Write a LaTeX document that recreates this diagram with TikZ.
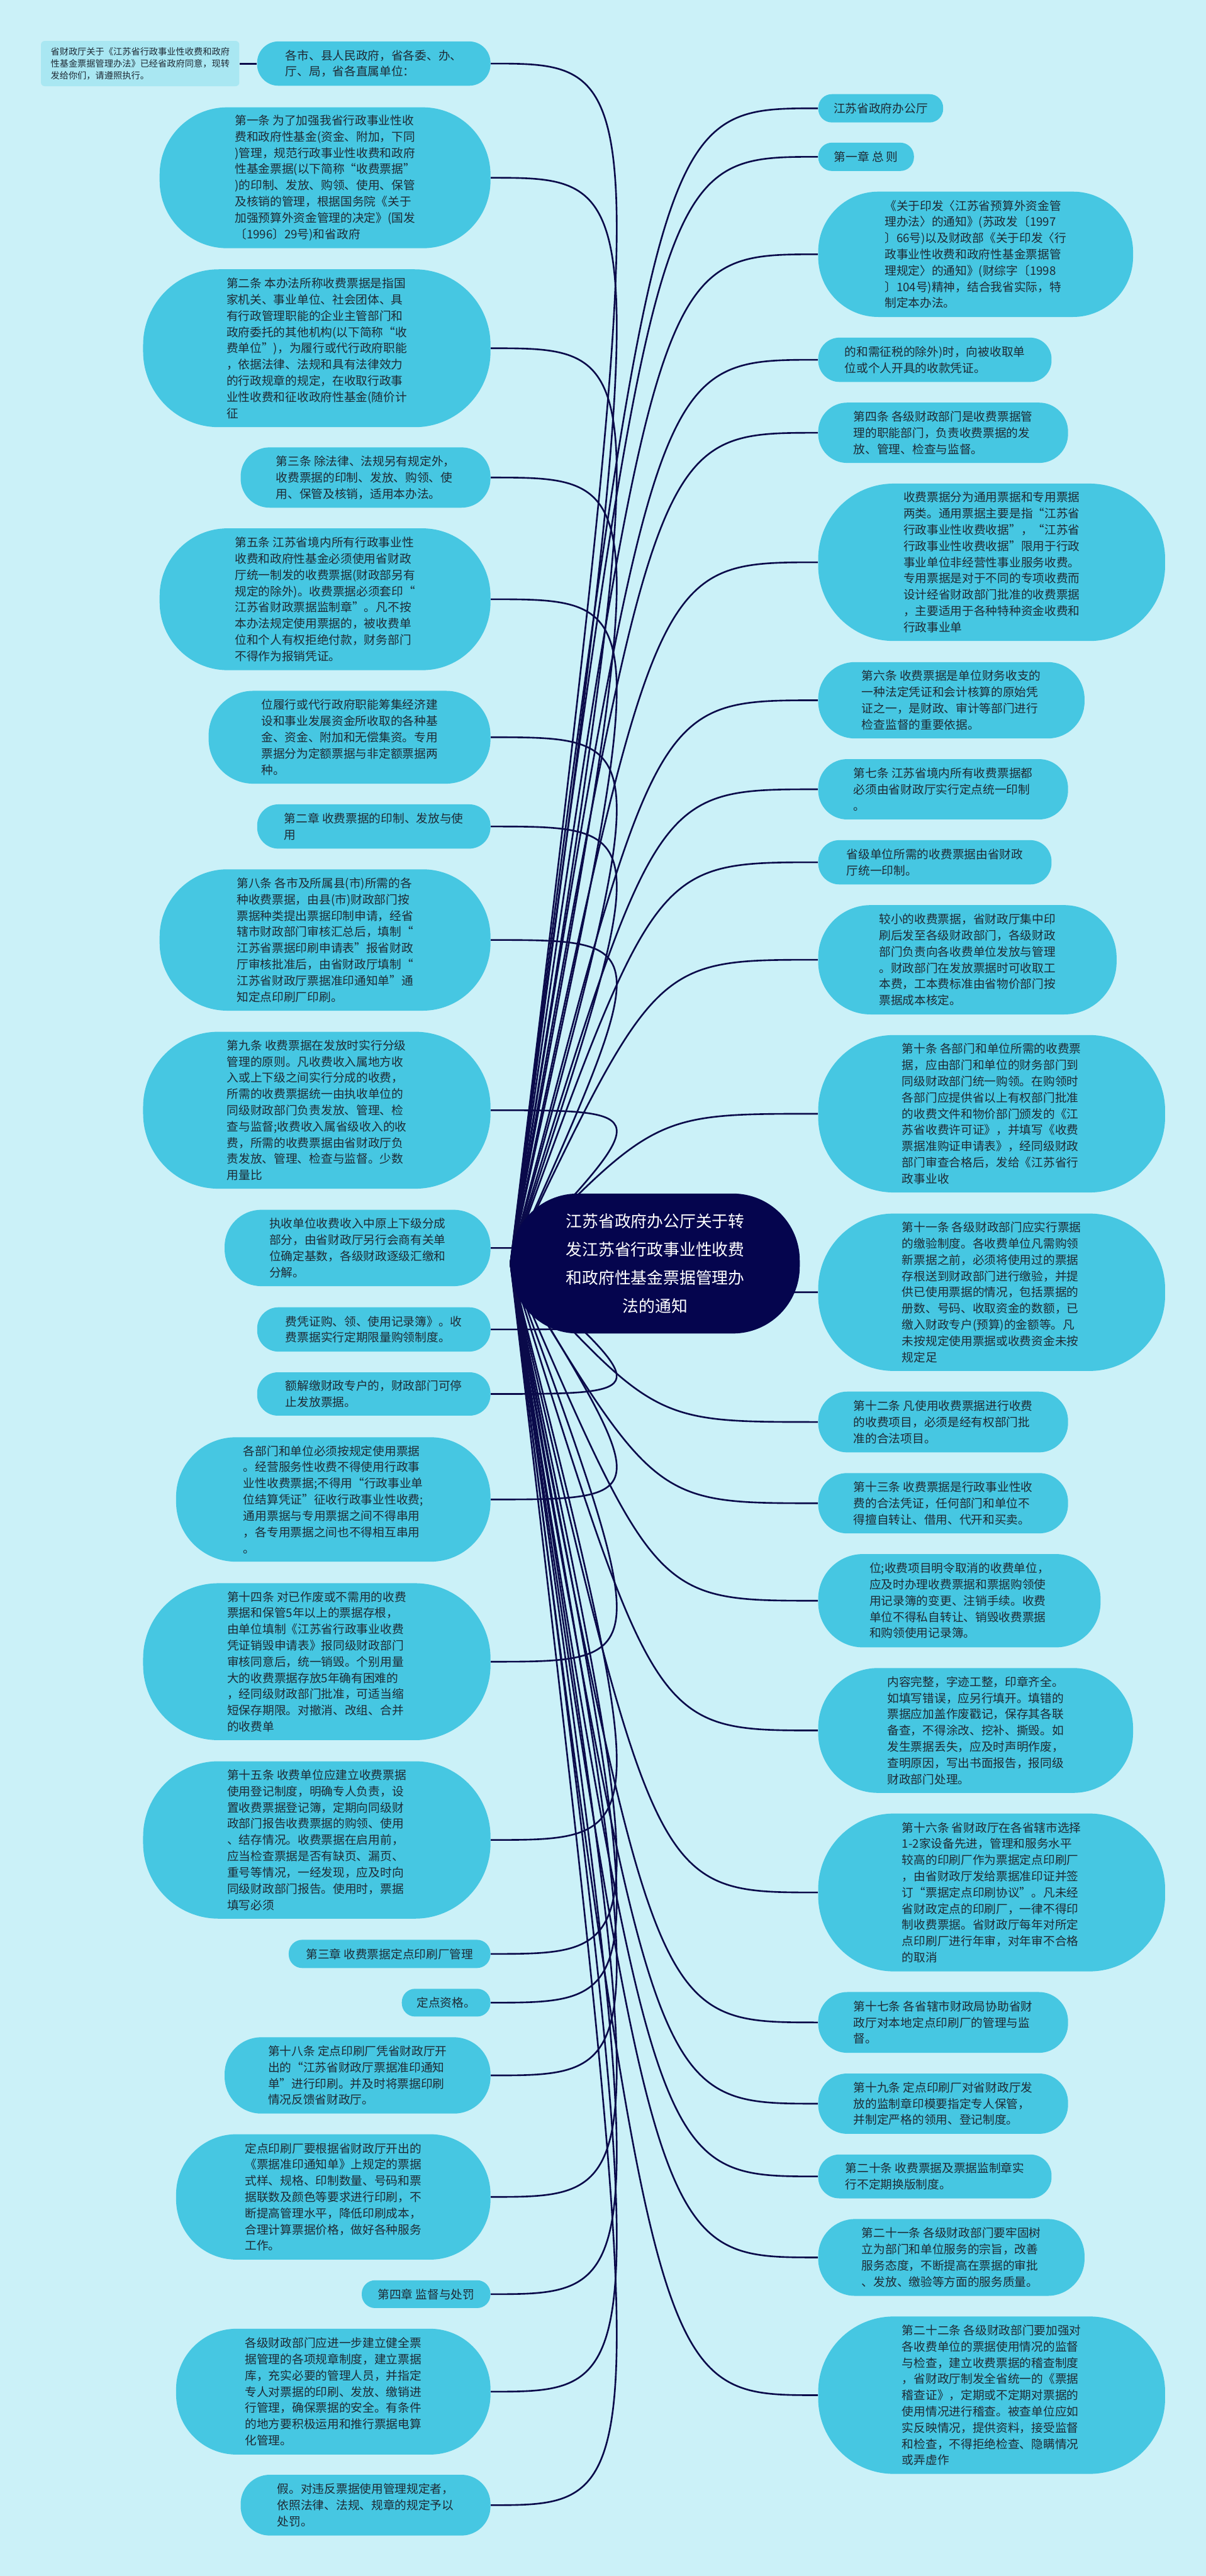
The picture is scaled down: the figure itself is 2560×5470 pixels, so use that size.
\documentclass[tikz,border=0pt]{standalone}
\usepackage{fontspec}
\setmainfont{Noto Sans CJK SC}
\usetikzlibrary{calc}
\pgfdeclarelayer{bg}\pgfdeclarelayer{edges}
\pgfsetlayers{bg,edges,main}
\definecolor{bgc}{HTML}{CBF1F8}
\definecolor{nodec}{HTML}{46C7E2}
\definecolor{notec}{HTML}{A9E7F2}
\definecolor{rootc}{HTML}{05054E}
\definecolor{linec}{HTML}{0A0A4A}
\definecolor{txtc}{HTML}{1E2A35}
\tikzset{
 box/.style={fill=nodec, draw=none, text=txtc, align=left, inner sep=0pt, font=\fontsize{7.1pt}{9.8pt}\selectfont},
 notebox/.style={fill=notec, draw=none, text=txtc, align=left, inner sep=0pt, rounded corners=0.08cm, font=\fontsize{5.4pt}{7.3pt}\selectfont},
 rootbox/.style={fill=rootc, draw=none, text=white, align=center, inner sep=0pt, font=\fontsize{9.8pt}{17pt}\selectfont},
 edge/.style={draw=linec, line width=0.035cm},
}
\newcommand{\mybox}[6]{%
 \pgfmathsetmacro\bw{(#3-#2)/100}%
 \pgfmathsetmacro\bh{(#5-#4)/100}%
 \pgfmathsetmacro\br{0.48*\bh}%
 \node[box, minimum width=\bw cm, minimum height=\bh cm, rounded corners=\br cm] (#1) at ({(#2+#3)/2},{(#4+#5)/2}) {#6};}
\begin{document}
\begin{tikzpicture}[x=0.01cm,y=-0.01cm]
\begin{pgfonlayer}{bg}
\fill[bgc] (0,0) rectangle (2560,5470);
\end{pgfonlayer}
\useasboundingbox (0,0) rectangle (2560,5470);

\node[rootbox, minimum width=6.13cm, minimum height=2.97cm, rounded corners=1.42cm] (root) at (1391,2683) {江苏省政府办公厅关于转\\发江苏省行政事业性收费\\和政府性基金票据管理办\\法的通知};

\node[notebox, minimum width=4.21cm, minimum height=0.96cm] (note) at (297.5,135) {省财政厅关于《江苏省行政事业性收费和政府\\性基金票据管理办法》已经省政府同意，现转\\发给你们，请遵照执行。};

\mybox{L1}{546}{1041}{88}{182}{各市、县人民政府，省各委、办、\\厅、局，省各直属单位：}
\mybox{L2}{339}{1041}{228}{527}{第一条 为了加强我省行政事业性收\\费和政府性基金(资金、附加，下同\\)管理，规范行政事业性收费和政府\\性基金票据(以下简称“收费票据”\\)的印制、发放、购领、使用、保管\\及核销的管理，根据国务院《关于\\加强预算外资金管理的决定》(国发\\〔1996〕29号)和省政府}
\mybox{L3}{304}{1041}{572}{907}{第二条 本办法所称收费票据是指国\\家机关、事业单位、社会团体、具\\有行政管理职能的企业主管部门和\\政府委托的其他机构(以下简称“收\\费单位”)，为履行或代行政府职能\\，依据法律、法规和具有法律效力\\的行政规章的规定，在收取行政事\\业性收费和征收政府性基金(随价计\\征}
\mybox{L4}{511}{1041}{950}{1078}{第三条 除法律、法规另有规定外，\\收费票据的印制、发放、购领、使\\用、保管及核销，适用本办法。}
\mybox{L5}{339}{1041}{1122}{1423}{第五条 江苏省境内所有行政事业性\\收费和政府性基金必须使用省财政\\厅统一制发的收费票据(财政部另有\\规定的除外)。收费票据必须套印“\\江苏省财政票据监制章”。凡不按\\本办法规定使用票据的，被收费单\\位和个人有权拒绝付款，财务部门\\不得作为报销凭证。}
\mybox{L6}{443}{1041}{1467}{1664}{位履行或代行政府职能筹集经济建\\设和事业发展资金所收取的各种基\\金、资金、附加和无偿集资。专用\\票据分为定额票据与非定额票据两\\种。}
\mybox{L7}{546}{1041}{1708}{1802}{第二章 收费票据的印制、发放与使\\用}
\mybox{L8}{339}{1041}{1846}{2146}{第八条 各市及所属县(市)所需的各\\种收费票据，由县(市)财政部门按\\票据种类提出票据印制申请，经省\\辖市财政部门审核汇总后，填制“\\江苏省票据印刷申请表”报省财政\\厅审核批准后，由省财政厅填制“\\江苏省财政厅票据准印通知单”通\\知定点印刷厂印刷。}
\mybox{L9}{304}{1041}{2191}{2524}{第九条 收费票据在发放时实行分级\\管理的原则。凡收费收入属地方收\\入或上下级之间实行分成的收费，\\所需的收费票据统一由执收单位的\\同级财政部门负责发放、管理、检\\查与监督;收费收入属省级收入的收\\费，所需的收费票据由省财政厅负\\责发放、管理、检查与监督。少数\\用量比}
\mybox{L10}{477}{1041}{2569}{2731}{执收单位收费收入中原上下级分成\\部分，由省财政厅另行会商有关单\\位确定基数，各级财政逐级汇缴和\\分解。}
\mybox{L11}{546}{1041}{2776}{2870}{费凭证购、领、使用记录簿》。收\\费票据实行定期限量购领制度。}
\mybox{L12}{546}{1041}{2914}{3006}{额解缴财政专户的，财政部门可停\\止发放票据。}
\mybox{L13}{374}{1041}{3052}{3316}{各部门和单位必须按规定使用票据\\。经营服务性收费不得使用行政事\\业性收费票据;不得用“行政事业单\\位结算凭证”征收行政事业性收费;\\通用票据与专用票据之间不得串用\\，各专用票据之间也不得相互串用\\。}
\mybox{L14}{304}{1041}{3362}{3695}{第十四条 对已作废或不需用的收费\\票据和保管5年以上的票据存根，\\由单位填制《江苏省行政事业收费\\凭证销毁申请表》报同级财政部门\\审核同意后，统一销毁。个别用量\\大的收费票据存放5年确有困难的\\，经同级财政部门批准，可适当缩\\短保存期限。对撤消、改组、合并\\的收费单}
\mybox{L15}{304}{1041}{3740}{4074}{第十五条 收费单位应建立收费票据\\使用登记制度，明确专人负责，设\\置收费票据登记簿，定期向同级财\\政部门报告收费票据的购领、使用\\、结存情况。收费票据在启用前，\\应当检查票据是否有缺页、漏页、\\重号等情况，一经发现，应及时向\\同级财政部门报告。使用时，票据\\填写必须}
\mybox{L16}{613}{1041}{4119}{4179}{第三章 收费票据定点印刷厂管理}
\mybox{L17}{853}{1041}{4223}{4282}{定点资格。}
\mybox{L18}{477}{1041}{4326}{4488}{第十八条 定点印刷厂凭省财政厅开\\出的“江苏省财政厅票据准印通知\\单”进行印刷。并及时将票据印刷\\情况反馈省财政厅。}
\mybox{L19}{374}{1041}{4532}{4798}{定点印刷厂要根据省财政厅开出的\\《票据准印通知单》上规定的票据\\式样、规格、印制数量、号码和票\\据联数及颜色等要求进行印刷，不\\断提高管理水平，降低印刷成本，\\合理计算票据价格，做好各种服务\\工作。}
\mybox{L20}{768}{1041}{4842}{4901}{第四章 监督与处罚}
\mybox{L21}{374}{1041}{4945}{5212}{各级财政部门应进一步建立健全票\\据管理的各项规章制度，建立票据\\库，充实必要的管理人员，并指定\\专人对票据的印刷、发放、缴销进\\行管理，确保票据的安全。有条件\\的地方要积极运用和推行票据电算\\化管理。}
\mybox{L22}{511}{1041}{5255}{5384}{假。对违反票据使用管理规定者，\\依照法律、法规、规章的规定予以\\处罚。}

\mybox{R1}{1737}{2002}{200}{260}{江苏省政府办公厅}
\mybox{R2}{1737}{1940}{303}{363}{第一章 总 则}
\mybox{R3}{1737}{2405}{407}{673}{《关于印发〈江苏省预算外资金管\\理办法〉的通知》(苏政发〔1997\\〕66号)以及财政部《关于印发〈行\\政事业性收费和政府性基金票据管\\理规定〉的通知》(财综字〔1998\\〕104号)精神，结合我省实际，特\\制定本办法。}
\mybox{R4}{1737}{2232}{717}{811}{的和需征税的除外)时，向被收取单\\位或个人开具的收款凭证。}
\mybox{R5}{1737}{2267}{855}{983}{第四条 各级财政部门是收费票据管\\理的职能部门，负责收费票据的发\\放、管理、检查与监督。}
\mybox{R6}{1737}{2473}{1027}{1361}{收费票据分为通用票据和专用票据\\两类。通用票据主要是指“江苏省\\行政事业性收费收据”，“江苏省\\行政事业性收费收据”限用于行政\\事业单位非经营性事业服务收费。\\专用票据是对于不同的专项收费而\\设计经省财政部门批准的收费票据\\，主要适用于各种特种资金收费和\\行政事业单}
\mybox{R7}{1737}{2302}{1406}{1568}{第六条 收费票据是单位财务收支的\\一种法定凭证和会计核算的原始凭\\证之一，是财政、审计等部门进行\\检查监督的重要依据。}
\mybox{R8}{1737}{2267}{1612}{1740}{第七条 江苏省境内所有收费票据都\\必须由省财政厅实行定点统一印制\\。}
\mybox{R9}{1737}{2232}{1784}{1878}{省级单位所需的收费票据由省财政\\厅统一印制。}
\mybox{R10}{1737}{2370}{1922}{2154}{较小的收费票据，省财政厅集中印\\刷后发至各级财政部门，各级财政\\部门负责向各收费单位发放与管理\\。财政部门在发放票据时可收取工\\本费，工本费标准由省物价部门按\\票据成本核定。}
\mybox{R11}{1737}{2473}{2198}{2532}{第十条 各部门和单位所需的收费票\\据，应由部门和单位的财务部门到\\同级财政部门统一购领。在购领时\\各部门应提供省以上有权部门批准\\的收费文件和物价部门颁发的《江\\苏省收费许可证》，并填写《收费\\票据准购证申请表》，经同级财政\\部门审查合格后，发给《江苏省行\\政事业收}
\mybox{R12}{1737}{2473}{2577}{2911}{第十一条 各级财政部门应实行票据\\的缴验制度。各收费单位凡需购领\\新票据之前，必须将使用过的票据\\存根送到财政部门进行缴验，并提\\供已使用票据的情况，包括票据的\\册数、号码、收取资金的数额，已\\缴入财政专户(预算)的金额等。凡\\未按规定使用票据或收费资金未按\\规定足}
\mybox{R13}{1737}{2267}{2955}{3084}{第十二条 凡使用收费票据进行收费\\的收费项目，必须是经有权部门批\\准的合法项目。}
\mybox{R14}{1737}{2267}{3128}{3256}{第十三条 收费票据是行政事业性收\\费的合法凭证，任何部门和单位不\\得擅自转让、借用、代开和买卖。}
\mybox{R15}{1737}{2336}{3300}{3498}{位;收费项目明令取消的收费单位，\\应及时办理收费票据和票据购领使\\用记录簿的变更、注销手续。收费\\单位不得私自转让、销毁收费票据\\和购领使用记录簿。}
\mybox{R16}{1737}{2405}{3542}{3807}{内容完整，字迹工整，印章齐全。\\如填写错误，应另行填开。填错的\\票据应加盖作废戳记，保存其各联\\备查，不得涂改、挖补、撕毁。如\\发生票据丢失，应及时声明作废，\\查明原因，写出书面报告，报同级\\财政部门处理。}
\mybox{R17}{1737}{2473}{3851}{4186}{第十六条 省财政厅在各省辖市选择\\1-2家设备先进，管理和服务水平\\较高的印刷厂作为票据定点印刷厂\\，由省财政厅发给票据准印证并签\\订“票据定点印刷协议”。凡未经\\省财政定点的印刷厂，一律不得印\\制收费票据。省财政厅每年对所定\\点印刷厂进行年审，对年审不合格\\的取消}
\mybox{R18}{1737}{2267}{4230}{4359}{第十七条 各省辖市财政局协助省财\\政厅对本地定点印刷厂的管理与监\\督。}
\mybox{R19}{1737}{2267}{4403}{4531}{第十九条 定点印刷厂对省财政厅发\\放的监制章印模要指定专人保管，\\并制定严格的领用、登记制度。}
\mybox{R20}{1737}{2232}{4575}{4668}{第二十条 收费票据及票据监制章实\\行不定期换版制度。}
\mybox{R21}{1737}{2302}{4712}{4875}{第二十一条 各级财政部门要牢固树\\立为部门和单位服务的宗旨，改善\\服务态度，不断提高在票据的审批\\、发放、缴验等方面的服务质量。}
\mybox{R22}{1737}{2473}{4919}{5253}{第二十二条 各级财政部门要加强对\\各收费单位的票据使用情况的监督\\与检查，建立收费票据的稽查制度\\，省财政厅制发全省统一的《票据\\稽查证》，定期或不定期对票据的\\使用情况进行稽查。被查单位应如\\实反映情况，提供资料，接受监督\\和检查，不得拒绝检查、隐瞒情况\\或弄虚作}

\begin{pgfonlayer}{edges}
\draw[edge, line width=0.04cm] (note.east) -- (L1.west);
\foreach \i in {1,...,22} {
 \draw[edge] (L\i.east) .. controls (L\i.east -| root.center) .. (root.west);
 \draw[edge] (root.west) .. controls (R\i.west -| root.center) .. (R\i.west);
}
\end{pgfonlayer}
\end{tikzpicture}
\end{document}
